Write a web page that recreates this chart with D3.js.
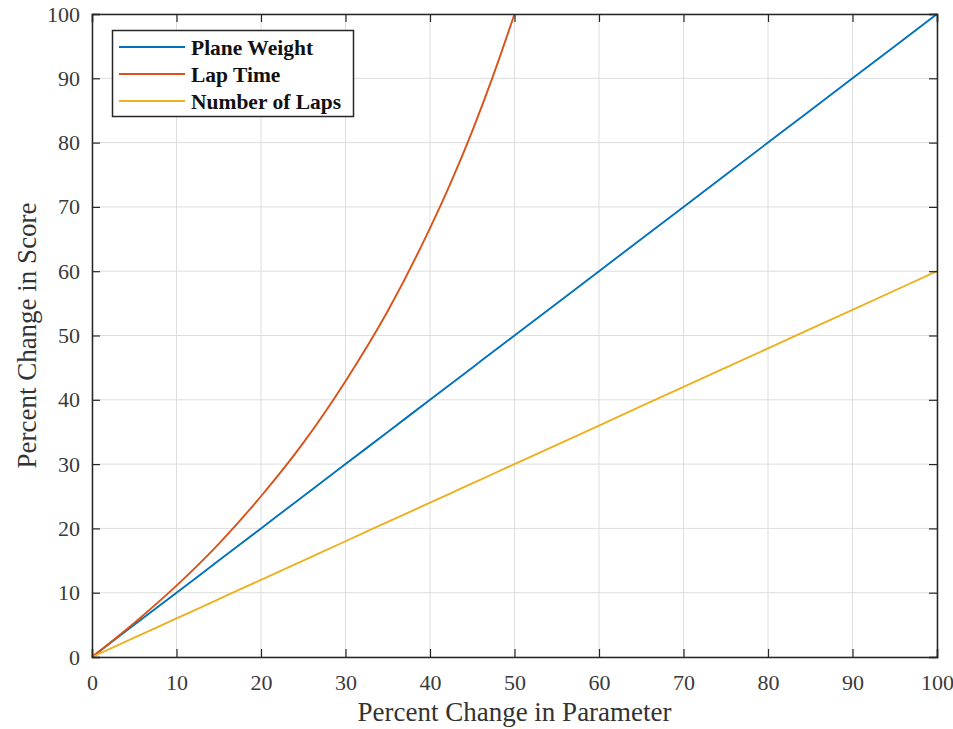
<!DOCTYPE html>
<html>
<head>
<meta charset="utf-8">
<script src="https://cdn.jsdelivr.net/npm/d3@7"></script>
<style>
  body { margin: 0; background: #fff; }
  svg { display: block; }
</style>
</head>
<body>
<div id="chart"></div>
<script>
// データ
var paramPct = [0, 5, 10, 15, 20, 25, 30, 35, 40, 42.5, 45, 47.5, 50, 60, 70, 80, 90, 100];
var planeWeight = [0, 5, 10, 15, 20, 25, 30, 35, 40, 42.5, 45, 47.5, 50, 60, 70, 80, 90, 100];
var lapTime = [0, 5.3, 11.1, 17.6, 25, 33.3, 42.9, 53.8, 66.7, 73.9, 81.8, 90.5, 100];
var numberOfLaps = [0, 3, 6, 9, 12, 15, 18, 21, 24, 25.5, 27, 28.5, 30, 36, 42, 48, 54, 60];
var seriesNames = ["Plane Weight", "Lap Time", "Number of Laps"];
var tickValues = [0, 10, 20, 30, 40, 50, 60, 70, 80, 90, 100];

var colors = ["#0072BD", "#D95319", "#EDB120"];

var W = 953, H = 729;
var plotL = 92, plotR = 937, plotT = 14, plotB = 657;

var svg = d3.select("#chart").append("svg")
  .attr("width", W)
  .attr("height", H);

var x = d3.scaleLinear().domain([0, 100]).range([plotL, plotR]);
var y = d3.scaleLinear().domain([0, 100]).range([plotB, plotT]);

// グリッド
var grid = svg.append("g");
grid.selectAll(".gx").data(tickValues).enter().append("line")
  .attr("x1", function(d) { return x(d); })
  .attr("x2", function(d) { return x(d); })
  .attr("y1", plotT).attr("y2", plotB)
  .attr("stroke", "#dedede").attr("stroke-width", 1);
grid.selectAll(".gy").data(tickValues).enter().append("line")
  .attr("y1", function(d) { return y(d); })
  .attr("y2", function(d) { return y(d); })
  .attr("x1", plotL).attr("x2", plotR)
  .attr("stroke", "#dedede").attr("stroke-width", 1);

// 系列
var series = [
  paramPct.map(function(p, i) { return [p, planeWeight[i]]; }),
  lapTime.map(function(v, i) { return [paramPct[i], v]; }),
  paramPct.map(function(p, i) { return [p, numberOfLaps[i]]; })
];

var line = d3.line()
  .x(function(d) { return x(d[0]); })
  .y(function(d) { return y(d[1]); })
  .curve(d3.curveMonotoneX);

svg.append("g").selectAll("path").data(series).enter().append("path")
  .attr("d", line)
  .attr("fill", "none")
  .attr("stroke", function(d, i) { return colors[i]; })
  .attr("stroke-width", 1.9);

// 軸
var fontTick = "'Liberation Serif', 'Times New Roman', serif";

var xAxis = svg.append("g")
  .attr("transform", "translate(0," + plotB + ")")
  .call(d3.axisBottom(x).tickValues(tickValues).tickSize(-8).tickPadding(17));
var xTop = svg.append("g")
  .attr("transform", "translate(0," + plotT + ")")
  .call(d3.axisTop(x).tickValues(tickValues).tickSize(-8).tickFormat(""));
var yAxis = svg.append("g")
  .attr("transform", "translate(" + plotL + ",0)")
  .call(d3.axisLeft(y).tickValues(tickValues).tickSize(-8).tickPadding(12));
var yRight = svg.append("g")
  .attr("transform", "translate(" + plotR + ",0)")
  .call(d3.axisRight(y).tickValues(tickValues).tickSize(-8).tickFormat(""));

[xAxis, xTop, yAxis, yRight].forEach(function(a) {
  a.select(".domain").attr("stroke", "#262626").attr("stroke-width", 1.5);
  a.selectAll(".tick line").attr("stroke", "#262626").attr("stroke-width", 1.2);
  a.selectAll("text")
    .attr("fill", "#3a3a3a")
    .style("font-family", fontTick)
    .style("font-size", "22px");
});

// 軸ラベル
svg.append("text")
  .attr("x", (plotL + plotR) / 2)
  .attr("y", 721)
  .attr("text-anchor", "middle")
  .attr("fill", "#333")
  .style("font-family", fontTick)
  .style("font-size", "27px")
  .text("Percent Change in Parameter");

svg.append("text")
  .attr("transform", "translate(36," + ((plotT + plotB) / 2) + ") rotate(-90)")
  .attr("text-anchor", "middle")
  .attr("fill", "#333")
  .style("font-family", fontTick)
  .style("font-size", "27px")
  .text("Percent Change in Score");

// 凡例
var legend = svg.append("g");
legend.append("rect")
  .attr("x", 112.5).attr("y", 30.5)
  .attr("width", 241).attr("height", 86)
  .attr("fill", "#fff")
  .attr("stroke", "#262626").attr("stroke-width", 1.5);

var items = legend.selectAll(".item").data(seriesNames).enter().append("g")
  .attr("transform", function(d, i) { return "translate(0," + (47 + i * 27) + ")"; });
items.append("line")
  .attr("x1", 119).attr("x2", 185)
  .attr("y1", 0).attr("y2", 0)
  .attr("stroke", function(d, i) { return colors[i]; })
  .attr("stroke-width", 1.9);
items.append("text")
  .attr("x", 191).attr("y", 8)
  .attr("fill", "#111")
  .style("font-family", fontTick)
  .style("font-size", "21.5px")
  .style("font-weight", "bold")
  .text(function(d) { return d; });
</script>
</body>
</html>
